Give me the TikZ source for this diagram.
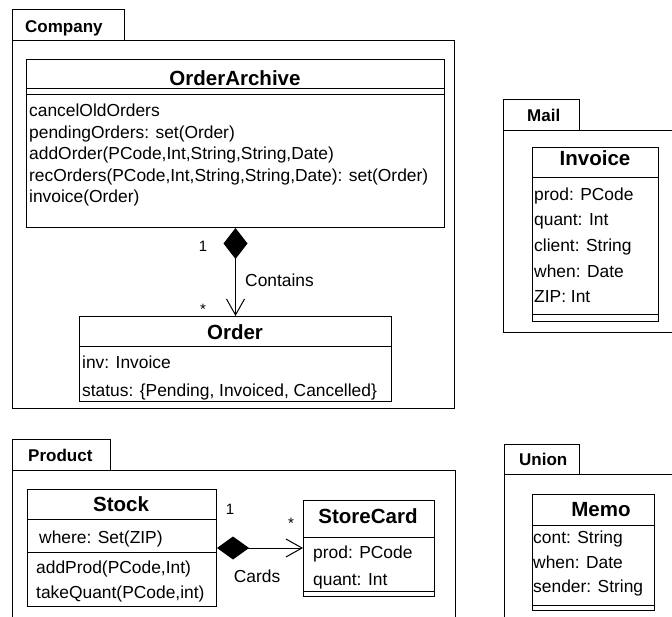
\documentclass[tikz,border=0pt]{standalone}
\usepackage{fontspec}
\setmainfont{Liberation Sans}
\usetikzlibrary{arrows.meta}

\tikzset{
  frame/.style={draw, line width=1pt},
  classbox/.style={draw, line width=1pt, anchor=north west, inner sep=0pt},
  pkgname/.style={anchor=base west, inner sep=0pt, font=\fontsize{17}{17}\selectfont\bfseries},
  clsname/.style={anchor=base, inner sep=0pt, font=\fontsize{20.5}{20.5}\selectfont\bfseries},
  member/.style={anchor=base west, inner sep=0pt, font=\fontsize{17.4}{17.4}\selectfont},
  role/.style={anchor=base, inner sep=0pt, font=\fontsize{15}{15}\selectfont},
}

\begin{document}
\begin{tikzpicture}[x=1pt,y=-1pt]
  \clip (0,0) rectangle (672,617);
  \useasboundingbox (0,0) rectangle (672,617);

  % packages
  \draw[frame] (12,41) rectangle (454,409);
  \draw[frame] (12,41) |- (124,10) -- (124,41);
  \node[pkgname] (company) at (25,33) {Company};

  \draw[frame] (12,470) -- (12,630) (12,470) -- (455,470) -- (455,630);
  \draw[frame] (12,470) |- (110,439) -- (110,470);
  \node[pkgname] (product) at (28,461) {Product};

  \draw[frame] (690,131) -| (503,333) -- (690,333);
  \draw[frame] (503,131) |- (579,100) -- (579,131);
  \node[pkgname] (mail) at (527,122) {Mail};

  \draw[frame] (690,474) -| (504,630);
  \draw[frame] (504,474) |- (579,444) -- (579,474);
  \node[pkgname] (union) at (519,465) {Union};

  % OrderArchive
  \node[classbox, minimum width=418pt, minimum height=168pt] (archive) at (26,59) {};
  \node[clsname] (archive-name) at (235,86) {OrderArchive};
  \draw[line width=1pt] (26,89) -- (444,89) (26,95) -- (444,95);
  \foreach \y/\txt [count=\i] in {117/cancelOldOrders, 139/{pendingOrders: set(Order)},
      160/{addOrder(PCode,Int,String,String,Date)},
      182/{recOrders(PCode,Int,String,String,Date): set(Order)}, 203/{invoice(Order)}}
    \node[member] (archive-\i) at (29,\y) {\txt};

  % Order
  \node[classbox, minimum width=312pt, minimum height=85pt] (order) at (79,316) {};
  \node[clsname] (order-name) at (235,340) {Order};
  \draw[line width=1pt] (79,347) -- (391,347);
  \node[member] (order-1) at (82,369) {inv: Invoice};
  \node[member] (order-2) at (82,396) {status: \{Pending, Invoiced, Cancelled\}};

  \draw[line width=1pt, {Diamond[length=31pt,width=24pt]}-{Straight Barb[length=16pt,width=18pt]}]
    (archive.south) -- (order.north);
  \node[role] (contains-1) at (203,252) {1};
  \node[role] (contains-n) at (203,315) {*};
  \node[member] (contains) at (245,287) {Contains};

  % Invoice
  \node[classbox, minimum width=126pt, minimum height=174pt] (invoice) at (532,147) {};
  \node[clsname] (invoice-name) at (595,166) {Invoice};
  \draw[line width=1pt] (532,178) -- (658,178) (532,315) -- (658,315);
  \foreach \y/\txt [count=\i] in {201/{prod: PCode}, 226/{quant: Int}, 252/{client: String},
      278/{when: Date}, 303/{ZIP: Int}}
    \node[member] (invoice-\i) at (534,\y) {\txt};

  % Memo
  \node[classbox, minimum width=122pt, minimum height=116pt] (memo) at (532,494) {};
  \node[clsname] (memo-name) at (601,516) {Memo};
  \draw[line width=1pt] (532,525) -- (654,525) (532,605) -- (654,605);
  \foreach \y/\txt [count=\i] in {543/{cont: String}, 568/{when: Date}, 592/{sender: String}}
    \node[member] (memo-\i) at (533,\y) {\txt};

  % Stock
  \node[classbox, minimum width=189pt, minimum height=117pt] (stock) at (27,489) {};
  \node[clsname] (stock-name) at (121,511) {Stock};
  \draw[line width=1pt] (27,519) -- (216,519) (27,552) -- (216,552);
  \node[member] (stock-1) at (39,543) {where: Set(ZIP)};
  \node[member] (stock-2) at (36,573) {addProd(PCode,Int)};
  \node[member] (stock-3) at (36,598) {takeQuant(PCode,int)};

  % StoreCard
  \node[classbox, minimum width=131pt, minimum height=96pt] (storecard) at (303,500) {};
  \node[clsname] (storecard-name) at (368,523) {StoreCard};
  \draw[line width=1pt] (303,537) -- (434,537) (303,591) -- (434,591);
  \node[member] (storecard-1) at (313,558) {prod: PCode};
  \node[member] (storecard-2) at (313,585) {quant: Int};

  \draw[line width=1pt, {Diamond[length=32pt,width=23pt]}-{Straight Barb[length=16pt,width=18pt]}]
    (stock.east) -- (stock.east -| storecard.west);
  \node[role] (cards-1) at (230,514) {1};
  \node[role] (cards-n) at (291,528) {*};
  \node[member, anchor=base] (cards) at (257,582) {Cards};
\end{tikzpicture}
\end{document}
